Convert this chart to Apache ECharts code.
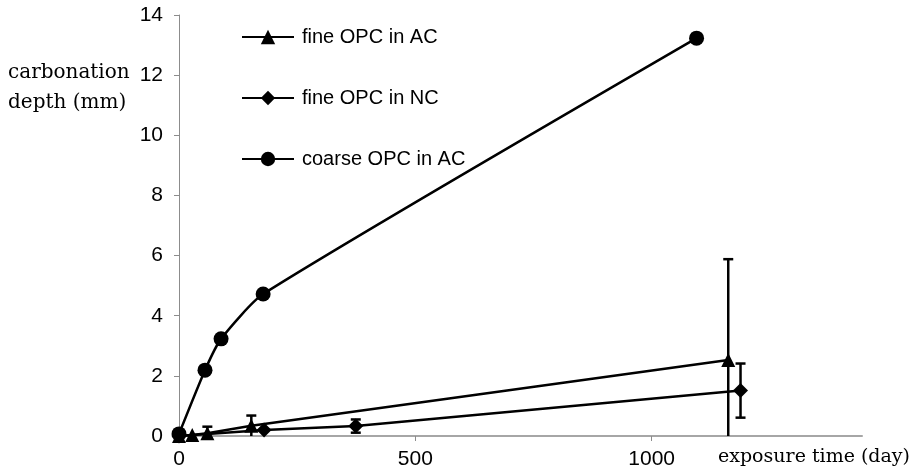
<!DOCTYPE html>
<html><head><meta charset="utf-8">
<script src="https://cdn.jsdelivr.net/npm/echarts@6/dist/echarts.min.js"></script>
<style>html,body{margin:0;padding:0;background:#fff}#c{width:923px;height:474px}</style>
</head><body><div id="c"></div>
<script>
const seriesNames = ['fine OPC in AC', 'fine OPC in NC', 'coarse OPC in AC'];
const fineACDays  = [0, 28, 60, 153, 1162];
const fineACDepth = [0, 0.03, 0.09, 0.34, 2.53];
const fineACErr   = [0, 0, 0.22, 0.34, 3.35];
const fineNCDays  = [0, 180, 374, 1188];
const fineNCDepth = [0, 0.2, 0.33, 1.51];
const fineNCErr   = [0, 0, 0.22, 0.9];
const coarseACDays  = [0, 55, 89, 178, 1095];
const coarseACDepth = [0.07, 2.19, 3.23, 4.72, 13.23];
const xTicks = [0, 500, 1000];
const yTicks = [0, 2, 4, 6, 8, 10, 12, 14];
const yTitle = ['carbonation', 'depth (mm)'];
const xTitle = 'exposure time (day)';

function zip(xs, ys) { return xs.map((x, i) => [x, ys[i]]); }
function zip3(xs, ys, es) { return xs.map((x, i) => [x, ys[i], es[i]]); }

function errRender(params, api) {
  const x = api.value(0), y = api.value(1), e = api.value(2);
  if (!e) return null;
  const lo = Math.max(0, y - e), hi = y + e;
  const pHi = api.coord([x, hi]), pLo = api.coord([x, lo]);
  const w = 5;
  const st = { stroke: '#000', lineWidth: 2.5 };
  const children = [
    { type: 'line', shape: { x1: pHi[0], y1: pHi[1], x2: pLo[0], y2: pLo[1] }, style: st },
    { type: 'line', shape: { x1: pHi[0] - w, y1: pHi[1], x2: pHi[0] + w, y2: pHi[1] }, style: st }
  ];
  if (y - e > 0) {
    children.push({ type: 'line', shape: { x1: pLo[0] - w, y1: pLo[1], x2: pLo[0] + w, y2: pLo[1] }, style: st });
  }
  return { type: 'group', children };
}

const sansFont = '"Liberation Sans", Arial, sans-serif';
const serifFont = '"DejaVu Serif", serif';

const chart = echarts.init(document.getElementById('c'), null, { renderer: 'canvas' });
chart.setOption({
  animation: false,
  backgroundColor: '#fff',
  grid: { left: 179, right: 61, top: 15, bottom: 38, containLabel: false, outerBoundsMode: 'none' },
  legend: {
    data: seriesNames,
    orient: 'vertical',
    left: 241,
    top: 27,
    padding: 0,
    itemWidth: 52,
    itemHeight: 18,
    itemGap: 41,
    textStyle: { fontFamily: sansFont, fontSize: 20, color: '#000', lineHeight: 20, padding: [0, 0, 0, 3] },
    selectedMode: false
  },
  xAxis: {
    type: 'value', min: 0, max: 1445, interval: 500,
    splitLine: { show: false },
    axisLine: { show: true, onZero: false, lineStyle: { color: '#a6a6a6', width: 2 } },
    axisTick: { show: true, length: 5, customValues: xTicks, lineStyle: { color: '#8c8c8c', width: 1 } },
    axisLabel: { customValues: xTicks, margin: 13, fontFamily: sansFont, fontSize: 21, color: '#000',
                 formatter: v => String(v) }
  },
  yAxis: {
    type: 'value', min: 0, max: 14, interval: 2,
    splitLine: { show: false },
    axisLine: { show: true, lineStyle: { color: '#8c8c8c', width: 1 } },
    axisTick: { show: true, length: 5, customValues: yTicks, lineStyle: { color: '#8c8c8c', width: 1 } },
    axisLabel: { customValues: yTicks, margin: 16, fontFamily: sansFont, fontSize: 21, color: '#000',
                 formatter: v => String(v) }
  },
  graphic: [
    { type: 'text', left: 8, top: 63, style: { text: yTitle[0], font: '20px ' + serifFont, fill: '#000' } },
    { type: 'text', left: 8, top: 93, style: { text: yTitle[1], font: '20px ' + serifFont, fill: '#000' } },
    { type: 'text', left: 718, top: 448, style: { text: xTitle, font: '19px ' + serifFont, fill: '#000' } }
  ],
  series: [
    {
      name: seriesNames[0], type: 'line', data: zip(fineACDays, fineACDepth),
      symbol: 'triangle', symbolSize: 14,
      itemStyle: { color: '#000' }, lineStyle: { color: '#000', width: 2.5 }, z: 3
    },
    {
      name: seriesNames[1], type: 'line', data: zip(fineNCDays, fineNCDepth),
      symbol: 'diamond', symbolSize: 15,
      itemStyle: { color: '#000' }, lineStyle: { color: '#000', width: 2.5 }, z: 3
    },
    {
      name: seriesNames[2], type: 'line', data: zip(coarseACDays, coarseACDepth),
      symbol: 'circle', symbolSize: 15, smooth: 0.2,
      itemStyle: { color: '#000' }, lineStyle: { color: '#000', width: 2.5 }, z: 3
    },
    {
      name: 'errAC', type: 'custom', renderItem: errRender,
      data: zip3(fineACDays, fineACDepth, fineACErr), z: 2, silent: true
    },
    {
      name: 'errNC', type: 'custom', renderItem: errRender,
      data: zip3(fineNCDays, fineNCDepth, fineNCErr), z: 2, silent: true
    }
  ]
});
</script>
</body></html>
